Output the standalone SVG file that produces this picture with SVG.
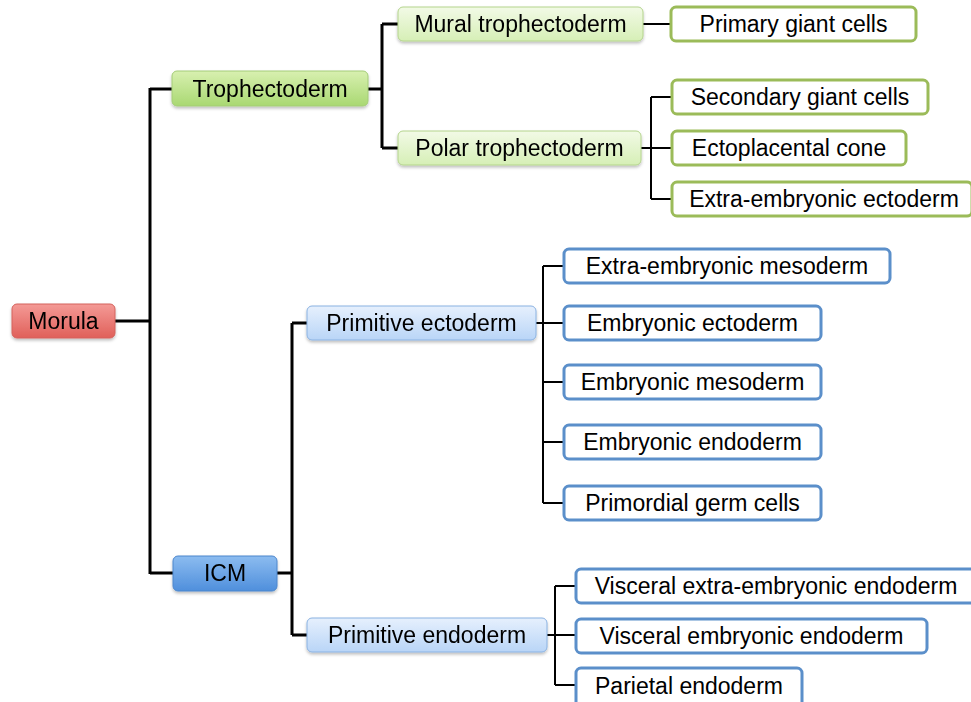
<svg xmlns="http://www.w3.org/2000/svg" width="971" height="702" viewBox="0 0 971 702">
<defs>
<linearGradient id="gRed" x1="0" y1="0" x2="0" y2="1"><stop offset="0" stop-color="#f49a96"/><stop offset="1" stop-color="#e0605a"/></linearGradient>
<linearGradient id="gGreen" x1="0" y1="0" x2="0" y2="1"><stop offset="0" stop-color="#d8f0b0"/><stop offset="1" stop-color="#a9d872"/></linearGradient>
<linearGradient id="gGreenL" x1="0" y1="0" x2="0" y2="1"><stop offset="0" stop-color="#f2fae6"/><stop offset="1" stop-color="#d6efb6"/></linearGradient>
<linearGradient id="gBlue" x1="0" y1="0" x2="0" y2="1"><stop offset="0" stop-color="#8cbcf0"/><stop offset="1" stop-color="#4f8fdc"/></linearGradient>
<linearGradient id="gBlueL" x1="0" y1="0" x2="0" y2="1"><stop offset="0" stop-color="#e6f0fd"/><stop offset="1" stop-color="#b9d5f7"/></linearGradient>
<filter id="sh" x="-10%" y="-20%" width="120%" height="150%"><feDropShadow dx="0" dy="2" stdDeviation="1.5" flood-color="#000" flood-opacity="0.25"/></filter>
</defs>
<style>
text{font-family:"Liberation Sans",Arial,sans-serif;font-size:23px;fill:#000;text-anchor:middle;dominant-baseline:central}
.red{fill:url(#gRed);stroke:#d4625c;stroke-width:1}
.grn{fill:url(#gGreen);stroke:#a4cc78;stroke-width:1}
.grnl{fill:url(#gGreenL);stroke:#b4d48c;stroke-width:1}
.blu{fill:url(#gBlue);stroke:#4d86cc;stroke-width:1}
.blul{fill:url(#gBlueL);stroke:#8ab2e2;stroke-width:1}
.gleaf{fill:#fff;stroke:#9bbb59;stroke-width:3}
.bleaf{fill:#fff;stroke:#5b8fca;stroke-width:3}
.c1{fill:none;stroke:#000;stroke-width:3}
.c2{fill:none;stroke:#000;stroke-width:2}
</style>
<g id="connectors">
<path class="c1" d="M115 321H150M150 88V574M150 89H172M150 573H173"/>
<path class="c1" d="M368 89H382M382 24V148M382 24H398M382 148H398"/>
<path class="c2" d="M643 24H671"/>
<path class="c2" d="M641 148H672M651 97V199M651 97H672M651 199H672"/>
<path class="c1" d="M277 573H292M292 323V635M292 323H307M292 635H307"/>
<path class="c2" d="M536 323H563M543 266V503M543 266H563M543 382H563M543 442H563M543 503H563"/>
<path class="c2" d="M547 635H575M555 586V685M555 586H575M555 685H575"/>
</g>
<g id="morula" filter="url(#sh)"><rect class="red" x="12" y="304" width="103" height="34" rx="5"/><text x="63.5" y="321">Morula</text></g>
<g id="trophectoderm" filter="url(#sh)"><rect class="grn" x="172" y="71" width="196" height="35" rx="5"/><text x="270" y="89">Trophectoderm</text></g>
<g id="mural" filter="url(#sh)"><rect class="grnl" x="398" y="7" width="245" height="34" rx="5"/><text x="520.5" y="24">Mural trophectoderm</text></g>
<g id="polar" filter="url(#sh)"><rect class="grnl" x="398" y="131" width="243" height="34" rx="5"/><text x="519.5" y="148">Polar trophectoderm</text></g>
<g id="primary"><rect class="gleaf" x="671" y="7" width="245" height="34" rx="5"/><text x="793.5" y="24">Primary giant cells</text></g>
<g id="secondary"><rect class="gleaf" x="672" y="80" width="256" height="34" rx="5"/><text x="800" y="97">Secondary giant cells</text></g>
<g id="ectoplacental"><rect class="gleaf" x="672" y="131" width="234" height="34" rx="5"/><text x="789" y="148">Ectoplacental cone</text></g>
<g id="exectoderm"><rect class="gleaf" x="672" y="182" width="300" height="34" rx="5"/><text x="824" y="199">Extra-embryonic ectoderm</text></g>
<g id="icm" filter="url(#sh)"><rect class="blu" x="173" y="556" width="104" height="35" rx="5"/><text x="225" y="573">ICM</text></g>
<g id="primecto" filter="url(#sh)"><rect class="blul" x="307" y="306" width="229" height="34" rx="5"/><text x="421.5" y="323">Primitive ectoderm</text></g>
<g id="primendo" filter="url(#sh)"><rect class="blul" x="307" y="618" width="240" height="34" rx="5"/><text x="427" y="635">Primitive endoderm</text></g>
<g id="exmeso"><rect class="bleaf" x="564" y="249" width="326" height="34" rx="5"/><text x="727" y="266">Extra-embryonic mesoderm</text></g>
<g id="embecto"><rect class="bleaf" x="564" y="306" width="257" height="34" rx="5"/><text x="692.5" y="323">Embryonic ectoderm</text></g>
<g id="embmeso"><rect class="bleaf" x="564" y="365" width="257" height="34" rx="5"/><text x="692.5" y="382">Embryonic mesoderm</text></g>
<g id="embendo"><rect class="bleaf" x="564" y="425" width="257" height="34" rx="5"/><text x="692.5" y="442">Embryonic endoderm</text></g>
<g id="pgc"><rect class="bleaf" x="564" y="486" width="257" height="34" rx="5"/><text x="692.5" y="503">Primordial germ cells</text></g>
<g id="visexendo"><rect class="bleaf" x="576" y="569" width="400" height="34" rx="5"/><text x="776" y="586">Visceral extra-embryonic endoderm</text></g>
<g id="visembendo"><rect class="bleaf" x="576" y="619" width="351" height="34" rx="5"/><text x="751.5" y="636">Visceral embryonic endoderm</text></g>
<g id="parietal"><rect class="bleaf" x="576" y="668" width="226" height="40" rx="5"/><text x="689" y="686">Parietal endoderm</text></g>
</svg>
